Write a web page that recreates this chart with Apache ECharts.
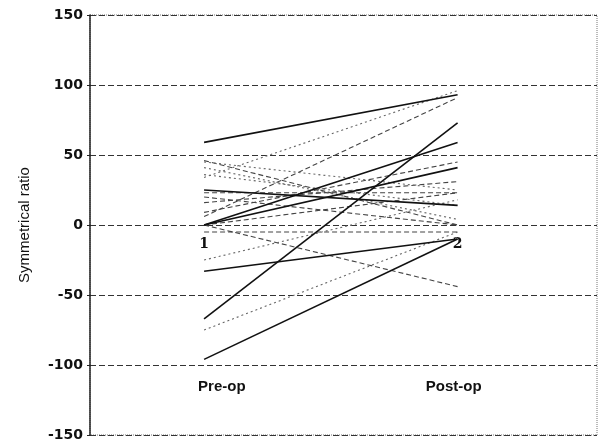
<!DOCTYPE html>
<html>
<head>
<meta charset="utf-8">
<script src="https://cdn.jsdelivr.net/npm/echarts@6/dist/echarts.min.js"></script>
<style>
  html, body { margin: 0; padding: 0; background: #fff; }
  #chart { width: 599px; height: 442px; }
</style>
</head>
<body>
<div id="chart"></div>
<script>
// categories on the x axis
var stages = ['Pre-op', 'Post-op'];

// one value per patient, before and after
var preOp  = [59, 34,  6, -67,  0,  9,  0, 16, 23, 25, 46, 41, 36,   0, -5, -25, -33, -75, -96,  0, 45, 20];
var postOp = [93, 96, 91,  73, 59, 45, 41, 31, 23, 14,  0,  4, 14, -44, -5,  18, -10,  -5, -10, 23, 25,  0];

// how each patient line was drawn in the print
var lineKind = ['solid', 'dotted', 'dashed', 'solid', 'solid', 'dashed', 'solid', 'dashed', 'dashed', 'solid',
                'dashed', 'dotted', 'dotted', 'dashed', 'dashed', 'dotted', 'solid', 'dotted', 'solid', 'dashed',
                'dotted', 'dashed'];

// point tags printed beside one patient line
var tagged = 14;
var tags = ['1', '2'];

var yTicks = { min: -150, max: 150, step: 50 };

var myChart = echarts.init(document.getElementById('chart'));

var series = preOp.map(function (pre, i) {
	var kind = lineKind[i];
	var data = [[0, pre], [1, postOp[i]]];
	var isTagged = i === tagged;
	if (isTagged) {
		data = data.map(function (p, k) {
			return {
				value: p,
				label: {
					show: true,
					position: 'bottom',
					distance: 5,
					formatter: tags[k],
					fontFamily: 'DejaVu Serif',
					fontWeight: 'bold',
					fontSize: 14,
					color: '#111',
				},
			};
		});
	}
	return {
		type: 'line',
		data: data,
		symbol: isTagged ? 'circle' : 'none',
		symbolSize: 1,
		itemStyle: { color: 'rgba(0,0,0,0)' },
		silent: true,
		z: kind === 'solid' ? 3 : 2,
		lineStyle: {
			color: kind === 'solid' ? '#111' : (kind === 'dashed' ? '#444' : '#666'),
			width: kind === 'solid' ? 1.6 : 1.1,
			type: kind === 'solid' ? 'solid' : (kind === 'dashed' ? [5, 3] : [2, 3]),
		},
	};
});

var option = {
	animation: false,
	backgroundColor: '#fff',
	grid: {
		left: 90,
		right: 2,
		top: 15,
		bottom: 7,
		show: true,
		borderColor: '#777',
		borderWidth: 1,
		borderType: 'dotted',
	},
	xAxis: {
		type: 'value',
		min: -0.45,
		max: 1.55,
		axisLine: { show: false },
		axisTick: { show: false },
		splitLine: { show: false },
		axisLabel: {
			customValues: [0.07, 0.985],
			formatter: function (v) { return v < 0.5 ? stages[0] : stages[1]; },
			margin: -56,
			fontFamily: 'Liberation Sans',
			fontWeight: 'bold',
			fontSize: 15,
			color: '#111',
		},
	},
	yAxis: {
		type: 'value',
		min: yTicks.min,
		max: yTicks.max,
		interval: yTicks.step,
		name: 'Symmetrical ratio',
		nameLocation: 'middle',
		nameGap: 58,
		nameTextStyle: {
			fontFamily: 'Liberation Sans',
			fontSize: 15,
			color: '#111',
		},
		axisLine: { show: true, onZero: false, lineStyle: { color: '#222', width: 1.5 } },
		axisTick: { show: true, length: 3, lineStyle: { color: '#222' } },
		axisLabel: {
			margin: 7,
			fontFamily: 'DejaVu Sans',
			fontWeight: 'bold',
			fontSize: 14,
			color: '#111',
		},
		splitLine: {
			show: true,
			lineStyle: { color: '#333', width: 1, type: [6, 3] },
		},
	},
	series: series,
};

myChart.setOption(option);
</script>
</body>
</html>
